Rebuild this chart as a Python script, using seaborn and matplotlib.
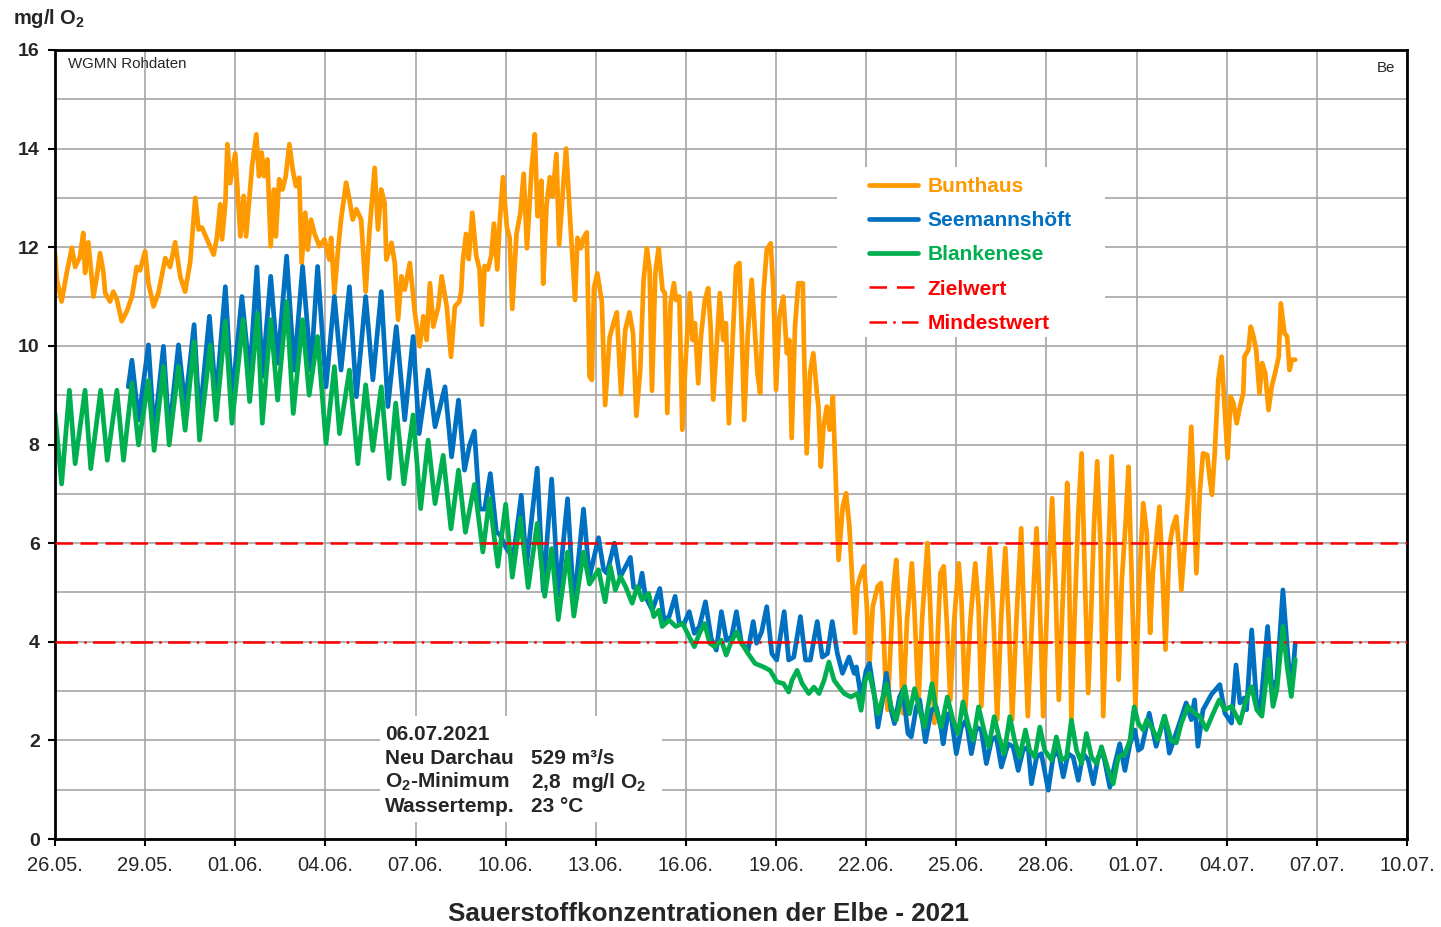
import numpy as np
import pandas as pd
import matplotlib
matplotlib.use("Agg")
import matplotlib.pyplot as plt
import matplotlib.dates as mdates
from matplotlib.lines import Line2D
from matplotlib.patches import Rectangle
import seaborn as sns

# ---------------------------------------------------------------------------
# Messdaten: Zeit in Tagen ab 26.05.2021 00:00, Sauerstoff in mg/l O2
# ---------------------------------------------------------------------------
START = pd.Timestamp("2021-05-26")
END = pd.Timestamp("2021-07-10")

bunthaus_day = [
    0.00, 0.06, 0.22, 0.39, 0.56, 0.67, 0.83, 0.94, 1.00, 1.11, 1.28, 1.39, 1.50, 1.61, 1.67, 1.83,
    1.94, 2.06, 2.22, 2.39, 2.56, 2.72, 2.83, 3.00, 3.11, 3.28, 3.44, 3.67, 3.83, 4.00, 4.17, 4.33,
    4.50, 4.67, 4.78, 4.89, 5.28, 5.39, 5.50, 5.56, 5.67, 5.74, 5.83, 6.00, 6.17, 6.28, 6.36, 6.56,
    6.70, 6.79, 6.88, 6.96, 7.07, 7.18, 7.29, 7.35, 7.46, 7.57, 7.68, 7.80, 7.91, 8.02, 8.13, 8.21,
    8.33, 8.41, 8.52, 8.63, 8.80, 8.97, 9.13, 9.19, 9.30, 9.41, 9.52, 9.69, 9.80, 9.91, 10.03, 10.19,
    10.34, 10.47, 10.64, 10.75, 10.86, 10.97, 11.03, 11.20, 11.31, 11.42, 11.53, 11.64, 11.81, 11.98,
    12.14, 12.26, 12.37, 12.48, 12.59, 12.76, 12.87, 13.04, 13.18, 13.31, 13.46, 13.52, 13.57, 13.68,
    13.77, 13.89, 14.02, 14.13, 14.21, 14.30, 14.41, 14.52, 14.61, 14.72, 14.80, 14.91, 15.04, 15.13,
    15.22, 15.36, 15.49, 15.60, 15.71, 15.86, 15.97, 16.06, 16.19, 16.25, 16.36, 16.47, 16.56, 16.69,
    16.78, 16.92, 17.01, 17.08, 17.16, 17.31, 17.39, 17.50, 17.59, 17.70, 17.79, 17.87, 17.94, 18.05,
    18.20, 18.31, 18.46, 18.59, 18.70, 18.84, 18.98, 19.12, 19.24, 19.35, 19.48, 19.59, 19.70, 19.79,
    19.87, 19.98, 20.09, 20.22, 20.30, 20.38, 20.49, 20.60, 20.67, 20.78, 20.88, 20.99, 21.13, 21.22,
    21.30, 21.41, 21.50, 21.63, 21.74, 21.82, 21.91, 22.02, 22.13, 22.24, 22.33, 22.43, 22.56, 22.67,
    22.78, 22.86, 22.94, 23.06, 23.19, 23.30, 23.38, 23.47, 23.58, 23.69, 23.82, 23.91, 24.00, 24.11,
    24.24, 24.36, 24.44, 24.52, 24.63, 24.74, 24.89, 24.93, 25.02, 25.13, 25.24, 25.36, 25.41, 25.49,
    25.58, 25.69, 25.78, 25.89, 25.97, 26.08, 26.22, 26.33, 26.44, 26.56, 26.63, 26.71, 26.80, 26.93,
    27.02, 27.11, 27.22, 27.30, 27.38, 27.49, 27.56, 27.63, 27.71, 27.80, 27.91, 28.00, 28.11, 28.22,
    28.36, 28.52, 28.60, 28.74, 28.86, 29.04, 29.13, 29.27, 29.38, 29.47, 29.58, 29.69, 29.80, 29.93,
    30.08, 30.17, 30.30, 30.47, 30.63, 30.74, 30.83, 30.97, 31.11, 31.22, 31.36, 31.49, 31.63, 31.74,
    31.86, 32.00, 32.16, 32.24, 32.38, 32.52, 32.67, 32.78, 32.89, 33.04, 33.19, 33.30, 33.41, 33.56,
    33.69, 33.72, 33.83, 33.94, 34.06, 34.17, 34.28, 34.39, 34.48, 34.58, 34.69, 34.80, 34.89, 35.03,
    35.17, 35.28, 35.40, 35.51, 35.64, 35.73, 35.84, 35.96, 36.09, 36.22, 36.34, 36.45, 36.54, 36.65,
    36.76, 36.87, 36.96, 37.09, 37.21, 37.32, 37.41, 37.49, 37.60, 37.71, 37.82, 37.90, 37.99, 38.10,
    38.21, 38.35, 38.44, 38.51, 38.60, 38.72, 38.83, 38.94, 39.03, 39.13, 39.22, 39.33, 39.44, 39.55,
    39.59, 39.72, 39.80, 39.89, 39.98, 40.09, 40.18, 40.28, 40.39, 40.50, 40.61, 40.73, 40.80, 40.92,
    41.01, 41.09, 41.17, 41.28,
]
bunthaus_o2 = [
    11.88, 11.34, 10.90, 11.48, 11.99, 11.60, 11.80, 12.29, 11.48, 12.10, 11.00, 11.40, 11.88, 11.50, 11.07, 10.90,
    11.10, 10.94, 10.50, 10.70, 11.00, 11.60, 11.53, 11.92, 11.27, 10.80, 11.07, 11.78, 11.60, 12.10, 11.40, 11.10,
    11.70, 13.00, 12.36, 12.40, 11.85, 12.20, 12.87, 12.16, 12.90, 14.09, 13.30, 13.90, 12.22, 13.04, 12.22, 13.65,
    14.29, 13.44, 13.92, 13.44, 13.78, 12.02, 13.17, 12.22, 13.38, 13.17, 13.44, 14.09, 13.58, 13.24, 13.41, 11.68,
    12.70, 11.95, 12.56, 12.29, 12.02, 12.16, 11.75, 12.19, 11.07, 11.88, 12.56, 13.31, 12.97, 12.56, 12.77, 12.56,
    11.10, 12.36, 13.61, 12.36, 13.17, 12.90, 11.75, 12.09, 11.68, 10.53, 11.41, 11.14, 11.68, 10.66,
    9.99, 10.60, 10.12, 11.27, 10.39, 10.80, 11.41, 10.80, 9.78, 10.80, 10.90, 11.11, 11.69, 12.27,
    11.76, 12.70, 11.83, 11.55, 10.43, 11.62, 11.55, 11.83, 12.48, 11.55, 12.48, 13.42, 12.41, 12.20,
    10.75, 12.27, 12.70, 13.49, 11.98, 13.57, 14.29, 12.63, 13.35, 11.26, 12.84, 13.42, 13.03, 13.89,
    12.05, 13.28, 14.00, 13.28, 12.41, 10.93, 12.19, 11.98, 12.19, 12.30, 9.38, 9.31, 11.18, 11.47,
    10.90, 8.80, 10.17, 10.46, 10.68, 9.02, 10.32, 10.68, 10.25, 8.58, 9.52, 11.33, 11.98, 11.55,
    9.09, 11.47, 11.98, 11.14, 11.07, 8.64, 10.86, 11.27, 10.93, 11.00, 8.30, 9.72, 11.07, 10.12,
    10.46, 9.24, 10.19, 10.93, 11.17, 10.39, 8.91, 9.99, 11.07, 10.12, 10.46, 8.43, 10.19, 11.61,
    11.68, 10.26, 8.50, 10.26, 11.34, 10.26, 9.45, 9.04, 11.07, 11.95, 12.08, 11.14, 9.11, 10.59,
    11.00, 9.85, 10.12, 8.13, 10.39, 11.27, 11.27, 9.92, 7.82, 9.45, 9.85, 9.04, 8.77, 7.55,
    8.36, 8.77, 8.30, 8.97, 7.55, 5.66, 6.74, 7.01, 6.34, 4.99, 4.18, 5.12, 5.32, 5.53,
    4.72, 3.57, 4.72, 4.92, 5.12, 5.19, 4.51, 3.36, 2.62, 3.77, 5.12, 5.66, 4.45, 2.55,
    4.45, 5.59, 4.72, 2.75, 4.45, 6.00, 4.72, 2.35, 4.11, 5.39, 5.53, 4.31, 2.82, 4.45,
    5.59, 4.85, 2.62, 4.45, 5.59, 4.72, 2.69, 4.45, 5.90, 4.72, 2.42, 4.45, 5.90, 4.45,
    2.42, 4.45, 6.30, 4.72, 2.49, 4.45, 6.30, 4.72, 2.49, 5.12, 6.91, 5.12, 2.82, 5.12,
    7.22, 6.61, 2.42, 4.58, 6.61, 7.82, 5.26, 2.96, 4.45, 6.34, 7.66, 5.93, 2.49, 5.26,
    7.76, 5.93, 3.23, 5.26, 6.47, 7.55, 5.26, 2.69, 5.26, 6.81, 6.20, 4.18, 5.39, 6.07,
    6.74, 5.26, 3.84, 5.93, 6.34, 6.54, 5.93, 5.05, 5.93, 6.95, 8.36, 7.01, 5.39, 7.01,
    7.82, 7.79, 7.28, 6.98, 7.82, 9.31, 9.78, 8.64, 7.72, 8.97, 8.84, 8.43, 8.77, 9.04,
    9.78, 9.92, 10.39, 10.19, 9.92, 9.04, 9.65, 9.45, 8.70, 9.18, 9.45, 9.78, 10.86, 10.26,
    10.19, 9.51, 9.72, 9.72,
]

seemannshoeft_day = [
    2.44, 2.56, 2.78, 3.11, 3.30, 3.61, 3.80, 4.11, 4.33, 4.63, 4.81, 5.14, 5.36, 5.67, 5.89, 6.22,
    6.48, 6.72, 6.90, 7.18, 7.41, 7.71, 7.96, 8.24, 8.52, 8.74, 9.02, 9.30, 9.52, 9.80, 10.03, 10.34,
    10.58, 10.86, 11.08, 11.36, 11.64, 11.92, 12.12, 12.42, 12.65, 12.98, 13.20, 13.43, 13.63, 13.80,
    13.96, 14.13, 14.30, 14.49, 14.69, 14.80, 15.02, 15.25, 15.52, 15.69, 16.05, 16.25, 16.53, 16.64,
    16.75, 17.06, 17.27, 17.59, 17.79, 18.09, 18.26, 18.37, 18.62, 18.81, 19.15, 19.26, 19.43, 19.54,
    19.65, 19.88, 20.13, 20.27, 20.44, 20.64, 20.78, 20.94, 21.11, 21.28, 21.45, 21.65, 21.84, 22.01,
    22.18, 22.35, 22.52, 22.68, 22.85, 23.07, 23.24, 23.35, 23.52, 23.69, 23.86, 24.02, 24.27, 24.42,
    24.59, 24.81, 24.98, 25.14, 25.37, 25.54, 25.71, 25.87, 26.04, 26.21, 26.43, 26.60, 26.67, 26.83,
    27.00, 27.11, 27.28, 27.39, 27.56, 27.67, 27.83, 27.94, 28.11, 28.22, 28.39, 28.50, 28.67, 28.78,
    28.97, 29.17, 29.33, 29.50, 29.56, 29.72, 29.83, 30.00, 30.17, 30.33, 30.50, 30.67, 30.83, 31.00,
    31.17, 31.33, 31.50, 31.72, 31.89, 32.06, 32.22, 32.39, 32.50, 32.67, 32.83, 33.06, 33.22, 33.39,
    33.56, 33.72, 33.89, 34.06, 34.22, 34.39, 34.56, 34.72, 34.89, 35.11, 35.28, 35.44, 35.61, 35.78,
    35.94, 36.06, 36.17, 36.42, 36.65, 36.93, 37.09, 37.43, 37.65, 37.82, 37.93, 38.04, 38.21, 38.49,
    38.77, 38.94, 39.16, 39.31, 39.44, 39.58, 39.66, 39.83, 40.00, 40.11, 40.36, 40.50, 40.67, 40.87,
    41.01, 41.15, 41.28,
]
seemannshoeft_o2 = [
    9.17, 9.71, 8.50, 10.02, 8.22, 9.99, 8.22, 10.02, 8.77, 10.43, 8.50, 10.60, 8.90, 11.20, 8.90, 11.00,
    9.39, 11.60, 9.38, 11.41, 9.65, 11.82, 9.51, 11.61, 9.51, 11.61, 9.17, 11.00, 9.51, 11.20, 8.97, 11.00,
    9.31, 11.10, 8.77, 10.39, 8.50, 10.19, 8.22, 9.51, 8.36, 9.17, 7.75, 8.90, 7.48, 7.99,
    8.27, 6.69, 6.69, 7.41, 6.22, 6.18, 5.90, 5.70, 6.97, 5.53, 7.52, 5.03, 7.30, 6.18,
    4.95, 6.90, 4.74, 6.69, 5.31, 6.11, 5.46, 5.39, 6.00, 5.31, 5.71, 5.10, 5.05, 5.39,
    4.92, 4.64, 5.08, 4.44, 4.51, 4.92, 4.37, 4.37, 4.61, 4.17, 4.31, 4.81, 4.07, 3.83,
    4.61, 4.03, 4.10, 4.61, 3.97, 3.83, 4.41, 3.97, 4.20, 4.71, 3.76, 3.63, 4.61, 3.63,
    3.69, 4.51, 3.63, 3.63, 4.41, 3.69, 3.76, 4.41, 3.76, 3.36, 3.69, 3.36, 3.49, 2.88,
    3.42, 3.56, 2.88, 2.27, 2.88, 3.36, 2.61, 2.34, 2.88, 3.02, 2.14, 2.07, 2.68, 2.82,
    1.97, 2.61, 2.68, 2.21, 1.93, 2.54, 2.48, 1.73, 2.27, 2.41, 1.73, 2.27, 2.21, 1.53,
    2.00, 2.07, 1.46, 1.93, 1.87, 1.39, 1.80, 1.87, 1.12, 1.66, 1.73, 0.99, 1.66, 1.80,
    1.26, 1.73, 1.66, 1.19, 1.73, 1.60, 1.12, 1.66, 1.73, 1.05, 1.53, 1.93, 1.39, 1.93,
    2.21, 1.80, 1.85, 2.55, 1.88, 2.49, 1.74, 2.35, 2.76, 2.42, 2.82, 1.88, 2.62, 2.93,
    3.13, 2.55, 2.35, 3.53, 2.76, 2.86, 2.62, 4.24, 2.69, 2.55, 4.31, 3.03, 3.23, 5.05,
    3.90, 2.96, 3.97,
]

blankenese_day = [
    0.00, 0.22, 0.48, 0.67, 1.00, 1.19, 1.52, 1.74, 2.06, 2.28, 2.56, 2.78, 3.11, 3.30, 3.61, 3.80,
    4.11, 4.33, 4.63, 4.81, 5.17, 5.36, 5.67, 5.89, 6.26, 6.48, 6.74, 6.90, 7.18, 7.41, 7.71, 7.93,
    8.24, 8.46, 8.74, 9.02, 9.30, 9.47, 9.80, 10.08, 10.34, 10.58, 10.86, 11.12, 11.34, 11.61, 11.92, 12.17,
    12.42, 12.65, 12.92, 13.18, 13.43, 13.66, 13.96, 14.24, 14.46, 14.74, 15.00, 15.22, 15.49, 15.75,
    16.05, 16.30, 16.53, 16.75, 17.06, 17.27, 17.59, 17.79, 18.09, 18.31, 18.48, 18.65, 18.82, 18.99,
    19.21, 19.38, 19.54, 19.76, 19.93, 20.10, 20.21, 20.44, 20.66, 20.89, 21.11, 21.28, 21.45, 21.62,
    21.79, 21.96, 22.18, 22.34, 22.51, 22.68, 22.85, 23.07, 23.30, 23.58, 23.80, 24.02, 24.25, 24.42,
    24.53, 24.70, 24.87, 25.09, 25.26, 25.43, 25.60, 25.76, 25.93, 26.10, 26.27, 26.49, 26.71, 26.83,
    26.97, 27.11, 27.28, 27.39, 27.56, 27.67, 27.83, 28.00, 28.17, 28.28, 28.44, 28.61, 28.78, 28.94,
    29.19, 29.33, 29.50, 29.70, 29.89, 30.06, 30.22, 30.39, 30.56, 30.74, 30.92, 31.08, 31.26, 31.42,
    31.59, 31.78, 31.94, 32.11, 32.30, 32.44, 32.61, 32.78, 32.94, 33.17, 33.33, 33.50, 33.67, 33.83,
    34.00, 34.17, 34.33, 34.50, 34.67, 34.83, 35.06, 35.22, 35.39, 35.61, 35.78, 35.92, 36.06, 36.22,
    36.34, 36.54, 36.70, 36.93, 37.15, 37.32, 37.49, 37.71, 37.93, 38.10, 38.32, 38.55, 38.75, 38.94,
    39.16, 39.44, 39.61, 39.83, 40.00, 40.17, 40.39, 40.54, 40.67, 40.87, 41.01, 41.15, 41.28,
]
blankenese_o2 = [
    8.63, 7.20, 9.10, 7.61, 9.10, 7.51, 9.10, 7.68, 9.10, 7.68, 9.24, 7.99, 9.30, 7.88, 9.58, 7.99,
    9.58, 8.29, 10.08, 8.09, 10.02, 8.50, 10.50, 8.43, 10.53, 8.87, 10.66, 8.43, 10.53, 8.90, 10.90, 8.63,
    10.53, 9.00, 10.19, 8.02, 9.58, 8.22, 9.51, 7.61, 9.21, 7.88, 9.17, 7.31, 8.84, 7.20, 8.60, 6.70,
    8.09, 6.80, 7.78, 6.29, 7.48, 6.22, 7.19, 5.82, 6.90, 5.53, 6.79, 5.31, 6.51, 5.10,
    6.40, 4.92, 5.89, 4.45, 5.82, 4.52, 5.82, 5.17, 5.46, 4.81, 5.53, 5.05, 5.32, 5.12,
    4.78, 5.12, 4.85, 4.98, 4.51, 4.64, 4.31, 4.44, 4.31, 4.37, 4.10, 3.90, 4.17, 4.37,
    3.97, 3.90, 4.03, 3.73, 4.00, 4.20, 3.97, 3.76, 3.56, 3.49, 3.42, 3.19, 3.15, 2.98,
    3.22, 3.42, 3.15, 2.95, 3.08, 2.95, 3.22, 3.59, 3.22, 3.08, 2.95, 2.88, 2.95, 2.61,
    3.22, 3.36, 2.88, 2.54, 2.88, 3.15, 2.68, 2.41, 2.88, 3.09, 2.54, 3.05, 2.61, 2.27,
    3.15, 2.61, 2.27, 2.88, 2.41, 2.14, 2.78, 2.34, 2.00, 2.68, 2.21, 1.87, 2.48, 2.07,
    1.73, 2.48, 2.00, 1.66, 2.21, 1.80, 1.66, 2.27, 1.80, 1.60, 2.07, 1.60, 1.66, 2.41,
    1.80, 1.53, 2.14, 1.66, 1.53, 1.87, 1.39, 1.12, 1.66, 1.73, 2.00, 2.68, 2.34, 2.21,
    2.42, 2.22, 2.01, 2.49, 2.01, 1.95, 2.35, 2.69, 2.55, 2.49, 2.22, 2.55, 2.82, 2.62,
    2.69, 2.35, 2.76, 3.09, 2.62, 2.49, 3.64, 2.69, 3.03, 4.31, 3.50, 2.89, 3.64,
]

# Grenzwerte (mg/l O2)
ZIELWERT = 6.0
MINDESTWERT = 4.0

station_names = ["Bunthaus", "Seemannshöft", "Blankenese"]
threshold_names = ["Zielwert", "Mindestwert"]
date_tick_step_days = 3

info_date = "06.07.2021"
info_rows = [
    ("Neu Darchau", "529 m³/s"),
    (r"O$_\mathbf{2}$-Minimum", r"2,8  mg/l O$_\mathbf{2}$"),
    ("Wassertemp.", "23 °C"),
]

# ---------------------------------------------------------------------------
# Darstellung
# ---------------------------------------------------------------------------
ORANGE = "#FF9900"
BLUE = "#0070C0"
GREEN = "#00B050"
RED = "#FF0000"
GRID = "#a6a6a6"

sns.set_theme(style="white")
plt.rcParams["font.family"] = ["Liberation Sans", "DejaVu Sans"]
plt.rcParams["mathtext.fontset"] = "custom"
plt.rcParams["mathtext.rm"] = "Liberation Sans"
plt.rcParams["mathtext.it"] = "Liberation Sans:italic"
plt.rcParams["mathtext.bf"] = "Liberation Sans:bold"

W, H = 1441, 927
fig = plt.figure(figsize=(W / 100, H / 100), dpi=100)
L, R, T, B = 55, 1407, 50, 839
ax = fig.add_axes([L / W, 1 - B / H, (R - L) / W, (B - T) / H])


def ax_x(px):
    return (px - L) / (R - L)


def ax_y(py):
    return (B - py) / (B - T)


def series_frame(days, values):
    return pd.DataFrame({
        "zeit": START + pd.to_timedelta(days, unit="D"),
        "o2": values,
    })


LW = 3.4
for days, values, color in [
    (bunthaus_day, bunthaus_o2, ORANGE),
    (seemannshoeft_day, seemannshoeft_o2, BLUE),
    (blankenese_day, blankenese_o2, GREEN),
]:
    sns.lineplot(data=series_frame(days, values), x="zeit", y="o2", color=color,
                 lw=LW, estimator=None, sort=False, ax=ax, zorder=2)

ax.axhline(ZIELWERT, color=RED, lw=1.8, dashes=(7, 3), zorder=3)
ax.axhline(MINDESTWERT, color=RED, lw=1.8, dashes=(9, 2.5, 1, 2.5), zorder=3)

# Achsen
ax.set_xlim(START, END)
ax.set_ylim(0, 16)
ax.set_yticks(np.arange(0, 17, 2))
ax.set_yticks(np.arange(1, 16, 2), minor=True)
ax.set_xticks(pd.date_range(START, END, freq=f"{date_tick_step_days}D"))
ax.xaxis.set_major_formatter(mdates.DateFormatter("%d.%m."))
ax.set_xlabel("")
ax.set_ylabel("")

ax.set_axisbelow(True)
ax.grid(True, which="major", color=GRID, lw=1.2)
ax.grid(True, which="minor", axis="y", color=GRID, lw=1.2)
ax.tick_params(which="minor", length=0)
ax.tick_params(axis="y", which="major", labelsize=14, pad=6, length=5, width=1.5,
               left=True, color="black")
ax.tick_params(axis="x", which="major", labelsize=14.5, pad=7, length=5, width=1.5,
               bottom=True, color="black")
for lab in ax.get_yticklabels():
    lab.set_fontweight("bold")
for s in ax.spines.values():
    s.set_visible(True)
    s.set_color("black")
    s.set_linewidth(2)

# Weiße Felder für Legende und Infoblock
ax.add_patch(Rectangle((ax_x(837), ax_y(337)), ax_x(1105) - ax_x(837), ax_y(167) - ax_y(337),
                       transform=ax.transAxes, facecolor="white", edgecolor="none", zorder=1))
ax.add_patch(Rectangle((ax_x(380), ax_y(822)), ax_x(662) - ax_x(380), ax_y(716) - ax_y(822),
                       transform=ax.transAxes, facecolor="white", edgecolor="none", zorder=1))

# Legende
handles = [
    Line2D([], [], color=ORANGE, lw=LW),
    Line2D([], [], color=BLUE, lw=LW),
    Line2D([], [], color=GREEN, lw=LW),
    Line2D([], [], color=RED, lw=1.8, dashes=(7, 4)),
    Line2D([], [], color=RED, lw=1.8, dashes=(7, 2.5, 1, 2.5)),
]
labels = station_names + threshold_names
leg = ax.legend(handles, labels, loc="upper left",
                bbox_to_anchor=(ax_x(869), ax_y(177)), frameon=False,
                borderpad=0, borderaxespad=0, handlelength=2.35, handletextpad=0.45,
                labelspacing=0.73, prop={"weight": "bold", "size": 15})
for txt, col in zip(leg.get_texts(), [ORANGE, BLUE, GREEN, RED, RED]):
    txt.set_color(col)


def fig_xy(px, py):
    return px / W, 1 - py / H


# Texte
fig.text(*fig_xy(13, 18), r"mg/l O$_\mathbf{2}$", fontsize=14.5, fontweight="bold",
         ha="left", va="center")
fig.text(*fig_xy(68, 64), "WGMN Rohdaten", fontsize=10.8, ha="left", va="center")
fig.text(*fig_xy(1395, 68), "Be", fontsize=10.8, ha="right", va="center")
fig.text(*fig_xy(708, 914), "Sauerstoffkonzentrationen der Elbe - 2021", fontsize=18.7,
         fontweight="bold", ha="center", va="center")

fig.text(*fig_xy(385, 734), info_date, fontsize=15, fontweight="bold", ha="left", va="center")
for i, (name, val) in enumerate(info_rows):
    y = 758 + 24 * i
    fig.text(*fig_xy(385, y), name, fontsize=15, fontweight="bold", ha="left", va="center")
    fig.text(*fig_xy(531, y), val, fontsize=15, fontweight="bold", ha="left", va="center")

fig.savefig("out.png", dpi=100)
